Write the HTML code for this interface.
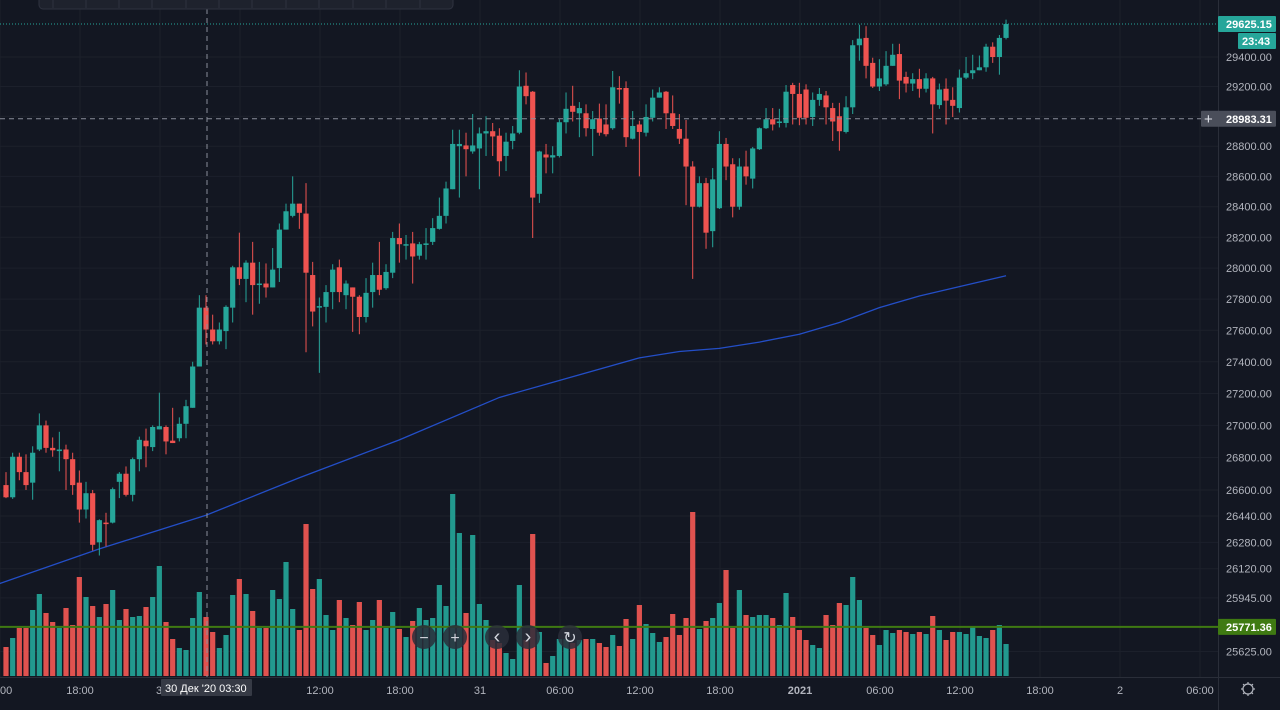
<!DOCTYPE html>
<html><head><meta charset="utf-8"><style>
html,body{margin:0;padding:0;background:#131722;}
#wrap{position:relative;width:1280px;height:710px;overflow:hidden;background:#131722;font-family:"Liberation Sans",sans-serif;}
svg{position:absolute;left:0;top:0;}
</style></head><body>
<div id="wrap">
<svg id="chart" width="1280" height="710"></svg>
</div>
<script>
const opens=[26630,26555,26805,26710,26645,26850,27000,26860,26840,26850,26790,26645,26480,26580,26280,26400,26400,26650,26700,26570,26790,26905,26865,26975,26990,26905,26920,27010,27110,27370,27745,27605,27530,27595,27745,28005,27930,28035,27895,27900,27875,28000,28250,28340,28420,28355,27955,27745,27750,27845,28005,27825,27875,27815,27685,27845,27955,27870,27970,28195,28150,28160,28080,28150,28170,28255,28340,28515,28800,28805,28765,28785,28885,28900,28870,28735,28835,28890,29205,29165,28485,28745,28725,28735,28960,29070,29020,29020,28915,28985,28945,28920,29190,29190,28850,28945,28890,28990,29125,29165,29020,28915,28850,28665,28400,28555,28240,28390,28815,28680,28400,28665,28585,28780,28920,28980,28955,28955,29210,29150,29180,28995,29110,29140,29055,29000,28895,29060,29480,29530,29360,29200,29215,29340,29420,29265,29220,29250,29185,29255,29075,29185,29110,29055,29260,29290,29310,29330,29470,29400,29530];
const closes=[26555,26805,26710,26630,26830,27000,26860,26845,26850,26790,26630,26480,26580,26265,26415,26395,26605,26700,26570,26790,26910,26870,26990,26995,26900,26890,27010,27120,27370,27745,27605,27530,27605,27750,28005,27930,28035,27890,27900,27875,27990,28250,28370,28420,28360,27970,27720,27755,27845,27990,27845,27900,27815,27685,27840,27955,27860,27975,28195,28155,28155,28075,28155,28160,28260,28340,28520,28815,28815,28780,28805,28885,28900,28865,28700,28830,28885,29200,29135,28460,28765,28725,28740,28960,29050,29030,29055,28920,28980,28890,28880,29195,29180,28860,28935,28895,28995,29125,29160,29020,28935,28850,28665,28400,28555,28230,28580,28815,28665,28400,28665,28600,28785,28920,28980,28945,28965,29165,29150,28990,28990,29110,29150,29060,28965,28900,29060,29480,29525,29340,29200,29255,29340,29415,29240,29220,29250,29185,29255,29080,29180,29105,29070,29260,29290,29310,29330,29470,29400,29530,29625];
const highs=[26710,26830,26830,26820,26870,27075,27030,26925,26960,26880,26830,26720,26650,26600,26420,26460,26615,26710,26745,26800,26930,26980,27000,27205,27000,27110,27050,27160,27400,27825,27825,27700,27650,27760,28015,28230,28050,28170,28040,28030,28130,28290,28420,28600,28420,28555,28040,27810,27890,28025,28055,27920,27875,27825,27935,28035,28170,28025,28235,28290,28215,28235,28170,28260,28325,28460,28565,28910,28910,28890,29015,28925,29000,28955,28920,28890,28935,29310,29295,29170,28770,28815,28800,28980,29160,29205,29095,29080,29035,29085,29080,29305,29270,29235,29035,28970,29080,29180,29195,29170,29140,29015,28975,28700,28600,28590,28655,28900,28855,28720,28720,28770,28795,28925,29055,29055,29050,29210,29225,29225,29215,29160,29190,29170,29090,29090,29135,29515,29620,29610,29395,29385,29440,29490,29490,29300,29290,29320,29290,29265,29220,29255,29195,29315,29400,29415,29410,29490,29500,29550,29655];
const lows=[26550,26545,26660,26600,26540,26840,26830,26805,26715,26600,26570,26400,26425,26230,26200,26255,26395,26550,26560,26530,26715,26740,26840,26975,26820,26890,26900,26920,27110,27370,27510,27510,27510,27480,27650,27890,27780,27700,27770,27810,27875,27910,28250,28330,28255,27460,27625,27330,27650,27735,27780,27735,27590,27575,27650,27745,27825,27860,27935,28035,28055,27900,28055,28055,28150,28250,28290,28515,28460,28600,28750,28515,28735,28735,28600,28635,28780,28880,29080,28195,28425,28620,28620,28725,28885,28965,28860,28865,28735,28870,28865,28910,29085,28795,28845,28600,28865,28965,29125,28915,28915,28815,28410,27930,28395,28125,28135,28385,28575,28330,28380,28545,28520,28775,28915,28905,28925,28925,28945,28940,28945,28935,29070,28945,28835,28770,28885,29015,29375,29255,29190,29170,29205,29340,29115,29160,29170,29125,29160,28885,29050,28945,28995,29025,29250,29250,29310,29300,29360,29280,29520];
const volumes=[29,38,48,48,66,82,63,54,48,68,51,99,79,70,59,72,86,56,67,59,60,69,79,110,54,37,28,26,58,84,59,44,28,41,81,97,82,65,48,48,86,77,114,67,46,152,87,97,61,46,76,58,51,74,46,56,76,48,64,47,39,55,68,56,58,91,70,182,143,63,141,72,56,36,33,23,17,91,36,142,44,13,20,37,37,33,36,37,37,33,29,41,30,57,37,71,52,43,34,39,62,41,58,164,47,55,58,73,106,48,86,61,59,61,61,58,51,83,59,46,36,31,28,61,51,73,71,99,76,48,41,31,46,43,46,44,42,44,42,60,46,36,44,44,42,49,40,38,46,51,32];
const maIdx=[-1,14,30,44,59,74,95,101,107,113,119,125,131,137,143,150];
const maVals=[26030,26240,26445,26675,26910,27175,27425,27465,27485,27525,27575,27650,27745,27820,27880,27950];
const priceTicks=[29400,29200,28800,28600,28400,28200,28000,27800,27600,27400,27200,27000,26800,26600,26440,26280,26120,25945,25625];
const gridPrices=[29400,29200,29000,28800,28600,28400,28200,28000,27800,27600,27400,27200,27000,26800,26600,26440,26280,26120,25945,25625];
const timeLabels=["00","18:00","","","12:00","18:00","31","06:00","12:00","18:00","2021","06:00","12:00","18:00","2","06:00"];
const lastPrice=29625.15, crossPrice=28983.31, linePrice=25771.36;

const NS="http://www.w3.org/2000/svg";
const svg=document.getElementById('chart');
function yP(p){return 57+4326*Math.log(29400/p);}
function xI(i){return 6+6.667*i;}
function yV(v){return 676-v;}
function el(tag,attrs,parent){const e=document.createElementNS(NS,tag);for(const k in attrs)e.setAttribute(k,attrs[k]);(parent||svg).appendChild(e);return e;}
const UP="#26a69a",DN="#ef5350";

const grid=el('g',{});


gridPrices.forEach(p=>{el('line',{x1:0,x2:1218,y1:yP(p),y2:yP(p),stroke:"#1c202b","stroke-width":1},grid);});
timeLabels.forEach((t,i)=>{el('line',{x1:i*80,x2:i*80,y1:0,y2:677,stroke:"#1c202b","stroke-width":1},grid);});

const vg=el('g',{});


volumes.forEach((v,i)=>{
  const r=el('rect',{x:xI(i)-2.6,y:yV(v),width:5.2,height:v,fill:closes[i]>=opens[i]?"#22998e":"#e0524f"},vg);
  
  
});

const maPts=maIdx.map((k,i)=>xI(k)+","+yP(maVals[i])).join(" ");
const ma=el('polyline',{points:maPts,fill:"none",stroke:"#2962ff","stroke-opacity":0.75,"stroke-width":1.3});



const cg=el('g',{});


opens.forEach((o,i)=>{
  const c=closes[i],col=c>=o?UP:DN,x=xI(i);
  const g=el('g',{},cg);
  
  
  el('line',{x1:x,x2:x,y1:yP(highs[i]),y2:yP(lows[i]),stroke:col,"stroke-width":1},g);
  const t=Math.min(yP(o),yP(c)),h=Math.max(1.5,Math.abs(yP(o)-yP(c)));
  el('rect',{x:x-2.6,y:t,width:5.2,height:h,fill:col},g);
});

const ly=yP(lastPrice);
const lp=el('line',{x1:0,x2:1218,y1:ly,y2:ly,stroke:"#26a69a","stroke-width":1,"stroke-dasharray":"1 2"});


const cy=yP(crossPrice);
const ch=el('line',{x1:0,x2:1218,y1:cy,y2:cy,stroke:"#8a8e99","stroke-width":1,"stroke-dasharray":"5 4"});


const cv=el('line',{x1:207,x2:207,y1:0,y2:677,stroke:"#8a8e99","stroke-width":1,"stroke-dasharray":"5 4"});


const gy=yP(linePrice);
const gl=el('line',{x1:0,x2:1218,y1:gy,y2:gy,stroke:"#3f7a12","stroke-width":2});



el('line',{x1:1218.5,x2:1218.5,y1:0,y2:710,stroke:"#2a2e39"});
const pa=el('g',{});


priceTicks.forEach(p=>{
  const t=el('text',{x:1226,y:yP(p)+4,fill:"#b2b5be","font-size":11},pa);
  t.textContent=p.toFixed(2);
  
  
});
function badge(name,x,y,w,h,bg,txt,fs,tx){
  const g=el('g',{});
  
  
  el('rect',{x:x,y:y,width:w,height:h,fill:bg,rx:1},g);
  const t=el('text',{x:tx,y:y+h-4,fill:"#ffffff","font-size":fs,"font-weight":"bold"},g);
  t.textContent=txt;
  return g;
}
badge('last-price-label',1218,ly-8,58,16,"#26a69a",lastPrice.toFixed(2),11,1226);
badge('countdown-label',1238,ly+9,38,16,"#26a69a","23:43",11,1242);
const cb=badge('crosshair-price-label',1201,cy-8,75,16,"#4a4e5a",crossPrice.toFixed(2),11,1226);
const plus=el('text',{x:1204,y:cy+5,fill:"#e0e3eb","font-size":15},cb);plus.textContent="+";
badge('level-price-label',1218,gy-8,58,16,"#3f7a12",linePrice.toFixed(2),11,1226);

el('line',{x1:0,x2:1280,y1:677.5,y2:677.5,stroke:"#2a2e39"});
const ta=el('g',{});


timeLabels.forEach((s,i)=>{
  if(!s)return;
  const t=el('text',{x:i===0?0:i*80,y:694,fill:"#b2b5be","font-size":11,"text-anchor":i===0?"start":"middle","font-weight":s==="2021"?"bold":"normal"},ta);
  t.textContent=s;
  
  
});
const peek=el('text',{x:156,y:694,fill:"#b2b5be","font-size":11},ta);peek.textContent="3";
const tb=badge('crosshair-time-label',161,679,91,17,"#363a45","30 Дек '20   03:30",11,165);
tb.lastChild.setAttribute('font-weight','normal');
tb.lastChild.setAttribute('xml:space','preserve');

const gear=el('g',{});


el('circle',{cx:1248,cy:689,r:5,fill:"none",stroke:"#b2b5be","stroke-width":1.2},gear);
for(let a=0;a<8;a++){const r=a*Math.PI/4;el('line',{x1:1248+5*Math.cos(r),y1:689+5*Math.sin(r),x2:1248+7*Math.cos(r),y2:689+7*Math.sin(r),stroke:"#b2b5be","stroke-width":1.2},gear);}

[["zoom-out-button",424,"−"],["zoom-in-button",455,"+"],["scroll-left-button",497,"‹"],["scroll-right-button",528,"›"],["reset-button",570,"↻"]].forEach(b=>{
  const g=el('g',{});
  
  
  el('circle',{cx:b[1],cy:637,r:12,fill:"#2a2e39","fill-opacity":0.85},g);
  const t=el('text',{x:b[1],y:643,fill:"#d1d4dc","font-size":b[2]==="‹"||b[2]==="›"?20:16,"text-anchor":"middle"},g);
  t.textContent=b[2];
});

const tbar=el('g',{});


el('rect',{x:39,y:-6,width:414,height:15,rx:4,fill:"#1e222d",stroke:"#2f3340"},tbar);
[53,86,119,152,186,219,252,286,319,353,386,420].forEach(x=>el('line',{x1:x,x2:x,y1:0,y2:8,stroke:"#2f3340"},tbar));
</script>
</body></html>
